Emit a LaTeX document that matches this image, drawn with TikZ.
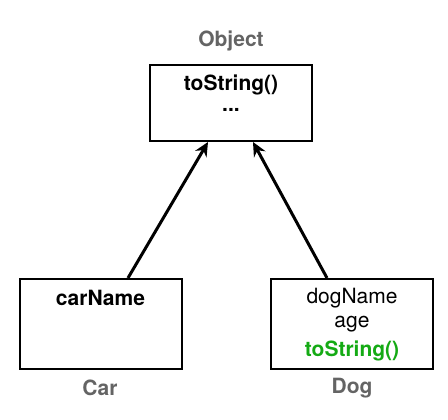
\documentclass[tikz,border=0pt]{standalone}
\usepackage{fontspec}
\setmainfont{TeX Gyre Heros}
\usetikzlibrary{calc, arrows.meta}

\begin{document}
\begin{tikzpicture}[x=1pt, y=-1pt, >=Stealth]
  % Fixed canvas, same size as the reference
  \useasboundingbox (0,0) rectangle (448,420);

  % ==========================================
  % 1. STYLES & COLOURS
  % ==========================================
  \definecolor{titleGray}{RGB}{100, 100, 100}
  \definecolor{overGreen}{RGB}{20, 170, 20}

  \tikzset{
    classbox/.style={draw=black, line width=2pt, minimum width=162pt,
      minimum height=#1, inner sep=0pt},
    classname/.style={text=titleGray, font=\fontsize{21}{24}\selectfont\bfseries},
    member/.style={font=\fontsize{21}{24}\selectfont, inner sep=0pt},
    boldmember/.style={member, font=\fontsize{21}{24}\selectfont\bfseries},
    inherit/.style={line width=3pt,
      arrows={-Stealth[length=14pt, width=13pt]}}
  }

  % ==========================================
  % 2. CLASS BOXES
  % ==========================================
  \node[classbox=76pt] (object) at (231,103) {};
  \node[classbox=90pt] (car) at (100.5,324) {};
  \node[classbox=90pt] (dog) at (352,324) {};

  % ==========================================
  % 3. CLASS NAMES
  % ==========================================
  \node[classname] (objectName) at (231,41) {Object};
  \node[classname] (carName) at (100,388) {Car};
  \node[classname] (dogName) at (352,388) {Dog};

  % ==========================================
  % 4. MEMBERS
  % ==========================================
  \node[boldmember] (objToString) at (231,85) {toString()};
  \node[boldmember] (objDots) at (231,110) {...};

  \node[boldmember] (carField) at (100.5,298) {carName};

  \node[member] (dogField) at (352,298) {dogName};
  \node[member] (ageField) at (352,324) {age};
  \node[boldmember, text=overGreen] (dogToString) at (352,351) {toString()};

  % ==========================================
  % 5. INHERITANCE ARROWS
  % ==========================================
  \draw[inherit] ($(car.north)+(27.5,0)$) -- ($(object.south)+(-23,0)$);
  \draw[inherit] ($(dog.north)+(-25,0)$) -- ($(object.south)+(22,0)$);

\end{tikzpicture}
\end{document}
